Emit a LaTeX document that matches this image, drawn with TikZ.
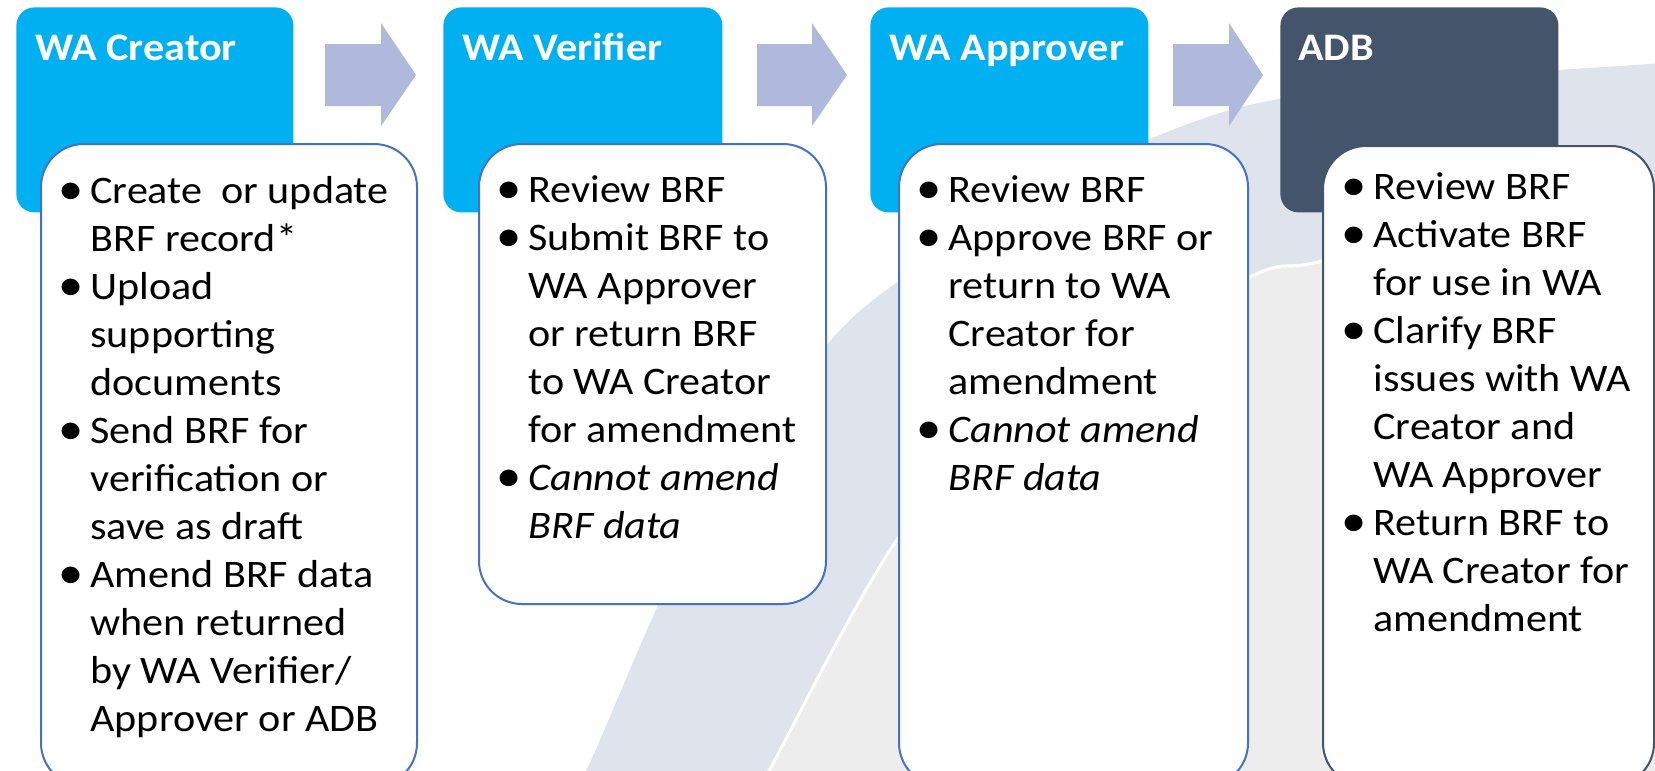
\documentclass[tikz,border=0pt]{standalone}
\usepackage{fontspec}
\usepackage{graphicx}
\setmainfont{Carlito}[FakeStretch=1.08]
\definecolor{hdrcyan}{HTML}{00B0F0}
\definecolor{hdrslate}{HTML}{44546A}
\definecolor{bodyblue}{HTML}{4472C4}
\definecolor{arrowcol}{HTML}{AEB9DC}
\definecolor{bgblue}{HTML}{DEE3EC}
\definecolor{bglight}{HTML}{EDEDED}
\newcommand\bul{\leavevmode\llap{\raisebox{-0.9pt}{\scalebox{1.2}{\textbullet}}\hspace{3.5pt}}}
\begin{document}
\begin{tikzpicture}[x=0.5pt,y=-0.5pt,
  hdr/.style={fill=hdrcyan, rounded corners=9pt, inner sep=0pt, anchor=north west},
  bodybox/.style={fill=white, draw=bodyblue, line width=1pt, rounded corners=21.5pt, inner sep=0pt, anchor=north west},
  hdrtext/.style={anchor=base west, inner sep=0pt, text=white, font=\bfseries\fontsize{19.5pt}{24pt}\selectfont},
  bodytext/.style={anchor=base west, inner sep=0pt, font=\fontsize{19.5pt}{24pt}\selectfont},
  blockarrow/.style={fill=arrowcol}]
\useasboundingbox (0,0) rectangle (1655,771);
\begin{scope}[overlay]
\clip (0,0) rectangle (1655,771);
\fill[white] (0,0) rectangle (1655,771);
% background swoosh
\fill[bgblue] plot[smooth] coordinates {(560,800) (586,771) (690,540) (826,346) (916,269) (1060,180) (1230,110) (1420,78) (1558,70) (1680,62)} -- (1680,800) -- cycle;
\fill[bglight] plot[smooth] coordinates {(755,800) (769,771) (906,527) (1060,390) (1250,277) (1318,262) (1500,215) (1680,190)} -- (1680,800) -- cycle;
\draw[white, line width=1.5pt] plot[smooth] coordinates {(755,800) (769,771) (906,527) (1060,390) (1250,277) (1318,262) (1500,215) (1680,190)};
% block arrows
\fill[blockarrow] (325,44) -- (381,44) -- (381,23) -- (416,75) -- (381,126) -- (381,106) -- (325,106) -- cycle;
\fill[blockarrow] (757,44) -- (812,44) -- (812,23) -- (847,75) -- (812,126) -- (812,106) -- (757,106) -- cycle;
\fill[blockarrow] (1173,44) -- (1229,44) -- (1229,23) -- (1263,75) -- (1229,126) -- (1229,106) -- (1173,106) -- cycle;
% headers
\node[hdr, minimum width=138.5pt, minimum height=102.5pt] (h1) at (16,7) {};
\node[hdr, minimum width=139.5pt, minimum height=102.5pt] (h2) at (443,7) {};
\node[hdr, minimum width=139pt, minimum height=102.5pt] (h3) at (870,7) {};
\node[hdr, fill=hdrslate, minimum width=139pt, minimum height=102.5pt] (h4) at (1280,7) {};
\node[hdrtext] (h1t) at (35,60) {WA Creator};
\node[hdrtext] (h2t) at (462,60) {WA Verifier};
\node[hdrtext] (h3t) at (889,60) {WA Approver};
\node[hdrtext] (h4t) at (1298,60) {ADB};
% bodies
\node[bodybox, minimum width=188pt, minimum height=321pt] (b1) at (40,143) {};
\node[bodybox, minimum width=173.5pt, minimum height=230pt] (b2) at (478,143) {};
\node[bodybox, minimum width=174.5pt, minimum height=321pt] (b3) at (898,143) {};
\node[bodybox, draw=hdrslate, minimum width=165.5pt, minimum height=320pt] (b4) at (1322,145) {};
% body texts
\node[bodytext] (t1) at (90,203) {\parbox[t]{160pt}{\bul Create\ \ or update\\ BRF record*\\ \bul Upload\\ supporting\\ documents\\ \bul Send BRF for\\ verification or\\ save as draft\\ \bul Amend BRF data\\ when returned\\ by WA Verifier/\\ Approver or ADB}};
\node[bodytext] (t2) at (528,202) {\parbox[t]{140pt}{\bul Review BRF\\ \bul Submit BRF to\\ WA Approver\\ or return BRF\\ to WA Creator\\ for amendment\\ \bul{\itshape Cannot amend\\ BRF data}}};
\node[bodytext] (t3) at (948,202) {\parbox[t]{140pt}{\bul Review BRF\\ \bul Approve BRF or\\ return to WA\\ Creator for\\ amendment\\ \bul{\itshape Cannot amend\\ BRF data}}};
\node[bodytext] (t4) at (1373,199) {\parbox[t]{140pt}{\bul Review BRF\\ \bul Activate BRF\\ for use in WA\\ \bul Clarify BRF\\ issues with WA\\ Creator and\\ WA Approver\\ \bul Return BRF to\\ WA Creator for\\ amendment}};
\end{scope}
\end{tikzpicture}
\end{document}
